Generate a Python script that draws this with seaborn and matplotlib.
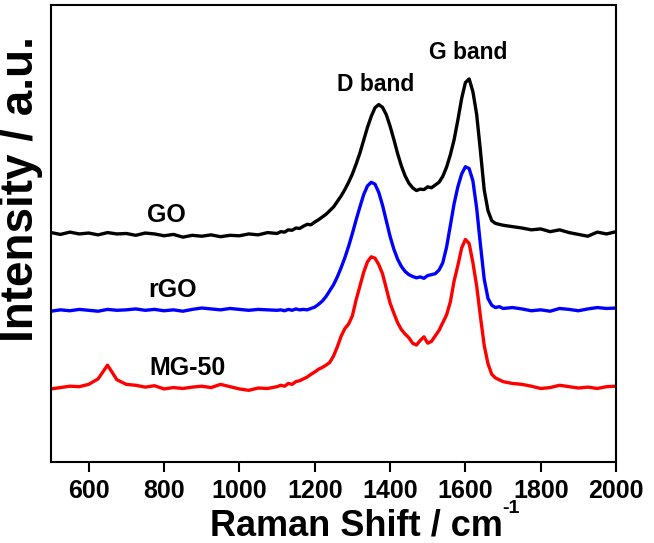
import numpy as np
import pandas as pd
import matplotlib
matplotlib.use("Agg")
import matplotlib.pyplot as plt
import seaborn as sns

# Raman shift grid (cm-1)
shift = ([500 + 25 * k for k in range(25)]
         + [1110 + 10 * k for k in range(60)]
         + [1725 + 25 * k for k in range(12)])

# intensities (arbitrary units, stacked)
go = [0.502, 0.498, 0.503, 0.499, 0.501, 0.497, 0.502, 0.499, 0.500, 0.496,
      0.501, 0.499, 0.495, 0.498, 0.492, 0.496, 0.494, 0.497, 0.493, 0.496,
      0.495, 0.499, 0.497, 0.502, 0.500,
      0.504, 0.503, 0.508, 0.507, 0.512, 0.511, 0.516, 0.520, 0.519, 0.525,
      0.530, 0.536, 0.542, 0.550, 0.558, 0.570, 0.582, 0.596, 0.612, 0.630,
      0.652, 0.676, 0.704, 0.732, 0.756, 0.775, 0.782, 0.776, 0.760, 0.735,
      0.706, 0.675, 0.648, 0.626, 0.610, 0.600, 0.594, 0.597, 0.596, 0.602,
      0.600, 0.606, 0.612, 0.625, 0.645, 0.672, 0.705, 0.748, 0.795, 0.830,
      0.838, 0.810, 0.760, 0.680, 0.595, 0.550, 0.528, 0.522, 0.520, 0.518,
      0.515, 0.512, 0.508, 0.510, 0.504, 0.508, 0.502, 0.498, 0.494, 0.503,
      0.499, 0.504]

rgo = [0.330, 0.333, 0.331, 0.334, 0.332, 0.330, 0.334, 0.332, 0.333, 0.335,
       0.332, 0.334, 0.331, 0.333, 0.330, 0.334, 0.337, 0.335, 0.333, 0.336,
       0.334, 0.332, 0.334, 0.333, 0.332,
       0.333, 0.331, 0.334, 0.332, 0.335, 0.333, 0.334, 0.333, 0.336, 0.339,
       0.345, 0.352, 0.362, 0.375, 0.388, 0.405, 0.425, 0.447, 0.472, 0.500,
       0.530, 0.558, 0.585, 0.604, 0.612, 0.608, 0.590, 0.562, 0.528, 0.494,
       0.466, 0.444, 0.428, 0.417, 0.410, 0.406, 0.403, 0.405, 0.402, 0.408,
       0.410, 0.412, 0.420, 0.436, 0.470, 0.517, 0.565, 0.602, 0.630, 0.646,
       0.642, 0.615, 0.555, 0.475, 0.400, 0.358, 0.343, 0.338, 0.340, 0.336,
       0.338, 0.335, 0.331, 0.333, 0.330, 0.336, 0.334, 0.331, 0.335, 0.338,
       0.336, 0.337]

mg50 = [0.160, 0.163, 0.166, 0.165, 0.170, 0.182, 0.212, 0.180, 0.170, 0.168,
        0.164, 0.167, 0.160, 0.163, 0.161, 0.164, 0.166, 0.163, 0.170, 0.165,
        0.160, 0.157, 0.162, 0.161, 0.165,
        0.168, 0.166, 0.172, 0.170, 0.176, 0.178, 0.182, 0.186, 0.192, 0.197,
        0.203, 0.207, 0.212, 0.218, 0.232, 0.252, 0.275, 0.292, 0.302, 0.320,
        0.355, 0.385, 0.415, 0.438, 0.449, 0.446, 0.432, 0.412, 0.380, 0.348,
        0.326, 0.305, 0.290, 0.280, 0.272, 0.260, 0.256, 0.266, 0.274, 0.260,
        0.264, 0.276, 0.288, 0.305, 0.322, 0.350, 0.396, 0.430, 0.468, 0.487,
        0.478, 0.436, 0.385, 0.318, 0.255, 0.215, 0.192, 0.184, 0.180, 0.176,
        0.172, 0.170, 0.166, 0.161, 0.163, 0.168, 0.165, 0.162, 0.164, 0.161,
        0.165, 0.166]

samples = ["GO", "rGO", "MG-50"]
colors = ["black", "blue", "red"]
label_x = [807, 823, 862]
label_y = [0.54, 0.377, 0.206]

bands = ["D band", "G band"]
band_x = [1362, 1607]
band_y = [0.825, 0.895]

xticks = [600, 800, 1000, 1200, 1400, 1600, 1800, 2000]

sns.set_style("ticks")
plt.rcParams['font.family'] = ['Liberation Sans', 'DejaVu Sans']
plt.rcParams['font.weight'] = 'bold'
for key in ['text.color', 'axes.edgecolor', 'axes.labelcolor', 'xtick.color', 'ytick.color']:
    plt.rcParams[key] = 'black'

fig = plt.figure(figsize=(6.54, 5.43), dpi=100)
ax = fig.add_axes([0.078, 0.149, 0.864, 0.842])

for name, ys, c in zip(samples, [go, rgo, mg50], colors):
    df = pd.DataFrame({"shift": shift, "intensity": ys})
    sns.lineplot(data=df, x="shift", y="intensity", color=c, linewidth=2.4, ax=ax)

for name, lx, ly in zip(samples, label_x, label_y):
    ax.text(lx, ly, name, fontsize=18, fontweight='bold', ha='center', va='center')
for name, bx, by in zip(bands, band_x, band_y):
    ax.text(bx, by, name, fontsize=16.5, fontweight='bold', ha='center', va='center')

ax.set_xlim(500, 2000)
ax.set_ylim(0, 1)
ax.set_xticks(xticks)
ax.set_yticks([])
ax.tick_params(axis='x', direction='out', length=7, width=1.5, labelsize=18, pad=5)
for lab in ax.get_xticklabels():
    lab.set_fontweight('bold')
for sp in ax.spines.values():
    sp.set_linewidth(1.5)
    sp.set_visible(True)
ax.set_xlabel("")
ax.set_ylabel("")

# axis titles placed as in the reference (slightly off-centre)
fig.text(210 / 654, 1 - 535 / 543, "Raman Shift / cm", fontsize=26, fontweight='bold',
         ha='left', va='baseline')
fig.text(502 / 654, 1 - 500 / 543, "-1", fontsize=14, fontweight='bold',
         ha='left', va='top')
fig.text(21 / 654, 1 - 189 / 543, "Intensity / a.u.", fontsize=33, fontweight='bold',
         rotation=90, ha='center', va='center')

fig.savefig("out.png", dpi=100)
